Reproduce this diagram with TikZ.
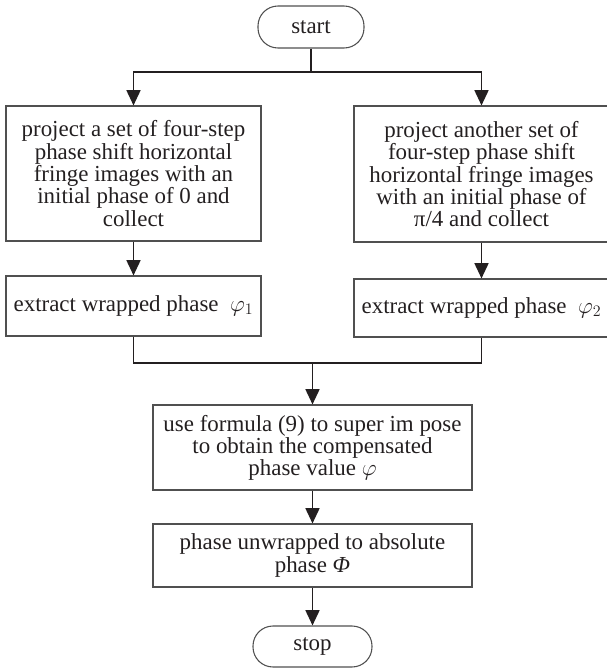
\documentclass[tikz,border=0pt]{standalone}
\usepackage{fontspec}
\setmainfont{Liberation Serif}
\usetikzlibrary{arrows.meta}
\definecolor{boxgray}{HTML}{505050}
\definecolor{linecol}{HTML}{231F20}
\definecolor{textcol}{HTML}{231F20}
\begin{document}
\begin{tikzpicture}[x=0.75pt,y=-0.75pt,
  font=\fontsize{17.2}{15.4}\selectfont,
  box/.style={draw=boxgray, line width=0.8pt, inner sep=0pt, align=center, text=textcol},
  term/.style={box, rounded corners=15pt},
  conn/.style={draw=linecol, line width=1.3pt},
  arr/.style={conn, -{Triangle[length=11.5pt,width=10.5pt]}}]
\useasboundingbox (0,0) rectangle (607,669);

\node[term, minimum width=79.5pt, minimum height=31.5pt] (start) at (311,27) {start};

\node[box, minimum width=191.25pt, minimum height=101.25pt] (L1) at (133.5,173.5)
  {project a set of four-step\\ phase shift horizontal\\ fringe images with an\\ initial phase of 0 and\\ collect};
\node[box, minimum width=191.25pt, minimum height=102pt] (R1) at (481.5,174)
  {project another set of\\ four-step phase shift\\ horizontal fringe images\\ with an initial phase of\\ π/4 and collect};

\node[box, minimum width=191.25pt, minimum height=45pt] (L2) at (133.5,306)
  {extract wrapped phase \ $\varphi_1$};
\node[box, minimum width=191.25pt, minimum height=43.5pt] (R2) at (481.5,308)
  {extract wrapped phase \ $\varphi_2$};

\node[box, minimum width=239.25pt, minimum height=63.75pt] (B3) at (312.5,447.5)
  {use formula (9) to super im pose\\ to obtain the compensated\\ phase value $\varphi$};

\node[box, minimum width=239.25pt, minimum height=47.25pt] (B4) at (312.5,555.5)
  {phase unwrapped to absolute\\ phase \textit{Φ}};

\node[term, minimum width=89.25pt, minimum height=30.75pt] (stop) at (312.5,646.5) {stop};

\coordinate (j1) at (311,72);
\coordinate (j2) at (312.5,363);

\draw[conn] (start.south) -- (j1);
\draw[arr] (j1) -| (L1.north);
\draw[arr] (j1) -| (R1.north);
\draw[arr] (L1.south) -- (L2.north);
\draw[arr] (R1.south) -- (R2.north);
\draw[conn] (L2.south) |- (j2) -| (R2.south);
\draw[arr] (j2) -- (B3.north);
\draw[arr] (B3.south) -- (B4.north);
\draw[arr] (B4.south) -- (stop.north);
\end{tikzpicture}
\end{document}
